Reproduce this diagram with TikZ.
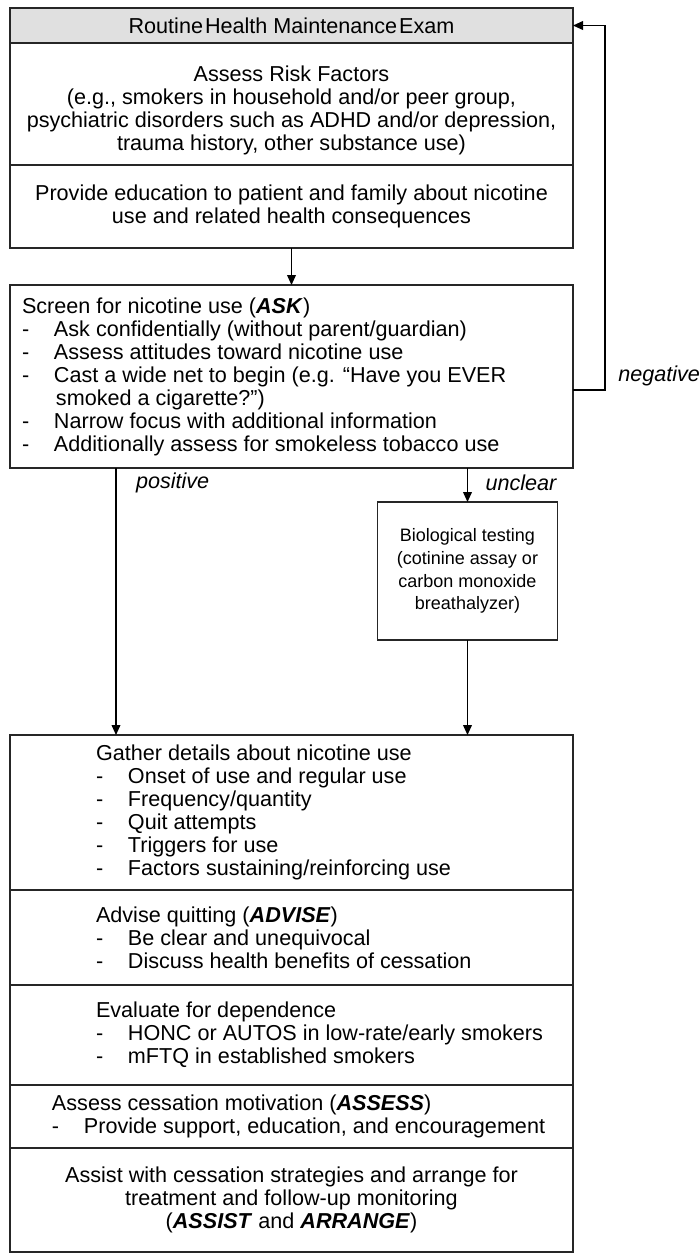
\documentclass[tikz,border=0pt]{standalone}
\usepackage{fontspec}
\setmainfont{Liberation Sans}
\usetikzlibrary{positioning, arrows.meta, calc}

\definecolor{headgray}{RGB}{224,224,224}
\newcommand{\dashitem}{\makebox[16pt][l]{-}}

\begin{document}
\begin{tikzpicture}[x=0.5pt, y=-0.5pt,
        every node/.style={inner sep=0pt, outer sep=0pt, font=\fontsize{10.8}{11.5}\selectfont},
        box/.style={draw=black!85, line width=0.6pt, minimum width=281.5pt, align=center},
        list/.style={align=left},
        lbl/.style={font=\fontsize{10.8}{11.5}\selectfont\itshape},
        arr/.style={draw=black, line width=0.6pt, -{Triangle[length=5pt, width=4.4pt]}}]
  \useasboundingbox (0,0) rectangle (700,1260);

  % top stack
  \node[box, fill=headgray, minimum height=17.5pt, anchor=north west] (exam) at (10,8)
    {Routine\kern1pt Health Maintenance\kern1pt Exam};
  \node[box, minimum height=61pt, below=0pt of exam] (risk)
    {\rule{0pt}{14.5pt}Assess Risk Factors\\(e.g., smokers in household and/or peer group,\\psychiatric disorders such as ADHD and/or depression,\\trauma history, other substance use)};
  \node[box, minimum height=41.5pt, below=0pt of risk] (educate)
    {Provide education to patient and family about nicotine\\use and related health consequences};

  % screening
  \node[box, minimum height=91.5pt, below=18.5pt of educate] (screen) {};
  \node[list, right=6pt of screen.west] (screentxt)
    {Screen for nicotine use (\textbf{\textit{ASK}})\\
     \dashitem Ask confidentially (without parent/guardian)\\
     \dashitem Assess attitudes toward nicotine use\\
     \dashitem Cast a wide net to begin (e.g. ``Have you EVER\\
     \hspace*{17pt}smoked a cigarette?'')\\
     \dashitem Narrow focus with additional information\\
     \dashitem Additionally assess for smokeless tobacco use};

  \node[box, minimum width=90pt, minimum height=69pt, font=\fontsize{9}{11.35}\selectfont, anchor=north] (bio)
    at ([xshift=88pt, yshift=-17pt]screen.south)
    {Biological testing\\(cotinine assay or\\carbon monoxide\\breathalyzer)};

  % bottom stack
  \node[box, minimum height=77.5pt, anchor=north] (gather) at ([yshift=-47.5pt]screen.south |- bio.south) {};
  \node[list, right=43pt of gather.west] (gathertxt)
    {Gather details about nicotine use\\
     \dashitem Onset of use and regular use\\
     \dashitem Frequency/quantity\\
     \dashitem Quit attempts\\
     \dashitem Triggers for use\\
     \dashitem Factors sustaining/reinforcing use};
  \node[box, minimum height=47.5pt, below=0pt of gather] (advise) {};
  \node[list, right=43pt of advise.west] (advisetxt)
    {Advise quitting (\textbf{\textit{ADVISE}})\\
     \dashitem Be clear and unequivocal\\
     \dashitem Discuss health benefits of cessation};
  \node[box, minimum height=50pt, below=0pt of advise] (evaluate) {};
  \node[list, right=43pt of evaluate.west] (evaluatetxt)
    {Evaluate for dependence\\
     \dashitem HONC or AUTOS in low-rate/early smokers\\
     \dashitem mFTQ in established smokers};
  \node[box, minimum height=31.5pt, below=0pt of evaluate] (motivate) {};
  \node[list, right=21pt of motivate.west] (motivatetxt)
    {Assess cessation motivation (\textbf{\textit{ASSESS}})\\
     \dashitem Provide support, education, and encouragement};
  \node[box, minimum height=52pt, below=0pt of motivate] (assist)
    {Assist with cessation strategies and arrange for\\treatment and follow-up monitoring\\(\textbf{\textit{ASSIST}} and \textbf{\textit{ARRANGE}})};

  % connectors
  \draw[arr] (educate) -- (screen);
  \draw[arr] ([xshift=53pt]screen.south west) -- node[lbl, pos=0.055, right=10pt] (poslbl) {positive}
    ([xshift=53pt]gather.north west);
  \draw[arr] (bio.north |- screen.south) -- node[lbl, pos=0.42, right=9pt] (unclearlbl) {unclear} (bio);
  \draw[arr] (bio) -- (bio.south |- gather.north);
  \draw[arr] ([yshift=-52.5pt]screen.north east) -- ++(16pt,0) |- (exam.east);
  \node[lbl, anchor=east] (neglbl) at (700,376) {negative};
\end{tikzpicture}
\end{document}
